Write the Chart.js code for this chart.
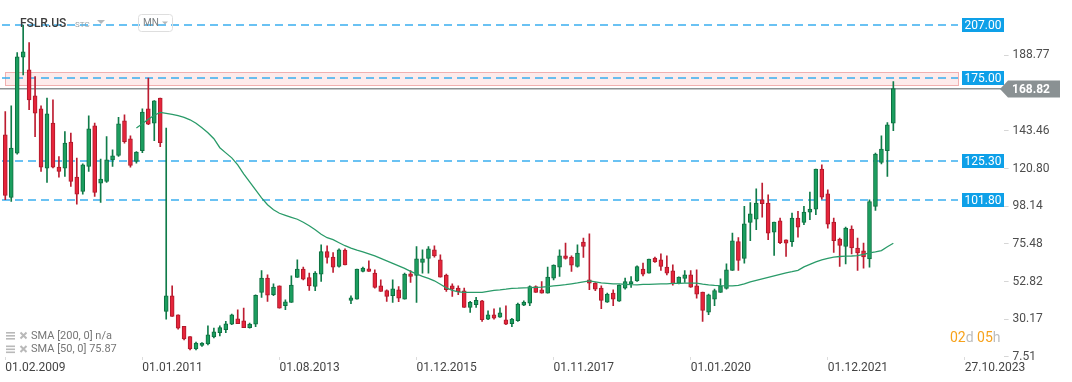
<!DOCTYPE html>
<html>
<head>
<meta charset="utf-8">
<title>FSLR.US</title>
<script src="https://cdn.jsdelivr.net/npm/chart.js@4.4.0/dist/chart.umd.min.js"></script>
<style>
  html, body { margin: 0; padding: 0; background: #fff; }
  #wrap { position: relative; width: 1072px; height: 382px; }
</style>
</head>
<body>
<div id="wrap"><canvas id="chart" width="1072" height="382"></canvas></div>
<script>
// monthly candles
const opens = [141.1,103.4,130.1,187.8,180.1,164.5,156.7,121.0,148.1,121.6,121.0,136.7,115.6,107.0,122.0,146.5,112.0,113.0,126.0,128.6,
  149.5,138.7,125.0,131.6,156.7,148.1,163.1,34.9,44.3,32.9,26.0,19.7,12.3,14.4,15.3,19.5,22.2,23.9,27.3,30.5,
  29.3,25.2,27.3,46.3,54.9,44.9,50.3,38.3,40.3,55.3,60.3,55.3,49.9,57.3,70.9,67.6,61.9,71.8,41.5,42.3,
  58.9,60.5,57.9,50.3,47.5,44.3,47.9,42.3,57.5,56.5,64.3,66.7,71.9,65.9,56.7,50.3,48.9,47.3,37.3,38.9,
  41.3,30.3,32.9,31.5,29.9,27.5,29.3,38.7,39.9,49.9,47.9,45.9,54.9,61.5,68.3,67.6,61.9,76.6,53.9,51.9,
  48.9,40.5,45.9,41.1,48.9,51.5,53.3,60.3,57.9,67.0,65.9,61.5,59.3,51.9,54.7,56.9,50.3,46.5,34.5,42.3,
  46.3,48.7,59.5,76.9,66.7,88.4,90.4,102.0,100.0,82.6,89.4,78.0,76.9,91.0,88.4,94.6,96.4,120.4,105.6,88.6,
  78.4,73.9,84.4,73.0,71.3,66.4,98.0,124.4,131.6,148.1];
const highs = [155.1,158.5,190.5,207.0,196.5,176.1,158.5,163.1,162.1,128.0,143.0,142.1,127.1,123.6,152.5,148.1,126.5,140.0,132.0,151.5,
  153.1,140.5,131.0,156.7,175.1,161.7,163.1,145.1,50.3,32.9,26.0,19.7,16.5,16.2,26.3,24.9,26.3,28.9,33.3,35.9,
  36.9,27.9,44.9,59.5,56.9,51.5,50.3,41.9,56.3,65.9,61.5,57.9,58.9,74.9,74.3,70.3,72.5,72.5,44.3,60.3,
  61.5,65.3,59.9,53.9,47.9,53.9,49.9,57.9,59.5,73.9,71.9,73.9,74.3,68.9,57.3,51.5,50.3,48.9,40.9,43.3,
  41.5,35.3,36.5,37.1,38.3,30.7,39.9,41.3,50.3,50.3,52.9,61.5,62.9,71.9,76.0,68.3,74.9,79.0,81.6,52.3,
  50.3,45.9,47.9,50.9,54.9,55.9,62.3,63.9,66.4,67.6,69.5,68.3,62.9,55.7,59.5,59.5,59.9,46.5,45.3,48.3,
  54.5,63.5,82.0,79.3,98.0,100.4,108.6,112.0,105.0,88.6,91.0,78.0,94.0,95.0,98.0,106.6,120.4,123.0,108.0,91.0,
  79.0,85.6,86.4,79.0,76.0,102.0,130.1,140.5,148.4,173.1];
const lows = [102.0,101.0,129.5,177.1,156.1,140.0,119.0,112.4,121.2,115.6,116.0,110.0,99.4,105.4,119.0,104.0,100.4,112.4,122.0,128.0,
  136.1,121.6,124.0,130.4,147.1,137.5,134.0,30.3,31.9,24.3,17.8,11.8,11.8,13.8,14.8,18.9,20.2,22.2,26.9,27.5,
  25.2,24.9,25.8,43.3,40.9,44.3,36.9,35.9,40.3,55.3,53.9,47.5,47.3,52.9,63.9,58.3,61.5,62.9,39.5,42.3,
  58.7,58.9,48.9,46.9,40.9,40.3,40.7,42.3,52.3,40.3,57.9,57.9,67.5,55.5,46.9,43.9,44.9,37.3,34.3,37.3,
  28.9,29.9,30.3,31.3,26.9,25.8,28.9,38.3,38.3,46.3,45.9,45.9,53.9,55.9,66.3,58.9,61.5,67.3,47.9,47.3,
  36.5,40.3,38.3,40.9,48.3,49.3,52.9,56.3,57.9,64.3,59.5,56.9,50.7,51.5,52.3,49.3,42.9,28.9,32.9,38.3,
  46.3,48.3,59.5,59.5,63.9,77.5,84.0,91.6,78.0,68.5,75.6,67.9,73.9,79.6,87.0,90.0,93.0,102.4,85.0,70.3,
  61.9,63.5,69.5,59.5,60.9,61.5,95.6,123.6,116.0,143.6];
const closes = [104.6,133.1,187.9,191.0,162.1,154.1,121.6,153.7,121.6,119.0,136.1,113.0,105.4,123.0,144.7,106.4,114.4,126.0,128.4,147.7,
  137.0,122.6,130.7,154.7,147.5,161.5,136.4,44.3,31.9,24.9,18.3,12.3,15.9,15.9,20.9,22.7,25.2,27.5,32.9,27.5,
  25.2,27.3,44.5,54.9,44.7,49.5,36.9,40.7,50.7,60.3,54.3,50.3,57.9,70.9,67.3,61.5,71.9,62.9,43.1,60.3,
  60.9,58.9,49.3,46.9,43.9,48.5,42.9,57.3,55.9,66.5,66.5,72.5,68.3,55.5,47.9,48.3,46.7,37.3,40.3,41.5,
  29.9,32.9,30.9,34.1,27.3,30.3,39.3,40.5,49.9,46.3,45.9,55.5,62.7,68.3,66.7,62.7,69.9,73.9,51.9,48.3,
  41.5,45.3,42.3,50.7,52.9,52.9,61.9,57.3,66.4,64.6,61.9,57.9,51.5,55.5,56.9,49.5,45.3,35.5,44.9,47.5,
  50.3,59.9,77.4,65.5,87.6,93.6,100.0,99.6,82.0,88.6,76.3,76.0,91.0,85.6,94.6,96.4,120.4,103.6,87.4,77.5,
  74.5,85.0,73.0,70.0,67.6,101.0,129.5,132.5,147.1,168.82];

// SMA [50, 0], starts at the 23rd candle
const smaStart = 22;
const sma50Values = [145.1,147.7,150.4,152.8,154.5,154.0,153.4,152.6,151.6,150.1,148.0,145.3,142.3,138.7,133.3,130.2,127.2,123.0,117.6,112.8,
  108.0,103.2,99.0,96.0,93.9,92.7,91.5,90.3,88.5,86.4,84.0,81.3,79.2,78.0,76.2,74.4,72.9,71.7,70.7,69.5,
  68.3,66.8,65.3,63.8,62.3,60.8,59.0,57.5,56.0,54.8,53.3,51.2,49.1,47.6,46.7,46.4,46.3,46.3,46.4,47.0,
  47.6,47.9,48.3,48.8,48.9,49.1,49.2,49.4,49.5,49.8,50.2,50.6,51.0,51.5,52.0,52.6,53.2,52.7,52.1,51.8,
  51.5,51.4,51.2,51.0,50.9,51.1,51.2,51.3,51.4,51.5,51.7,51.8,51.9,51.9,51.9,51.3,50.9,50.6,50.4,50.3,
  50.3,50.5,51.5,52.7,53.6,54.5,55.4,56.3,57.2,58.1,58.8,59.6,61.7,63.2,64.7,65.9,66.8,67.6,67.9,68.1,
  68.2,68.5,69.2,70.1,70.7,71.5,73.8,75.9];

const dateLabels = ['01.02.2009','01.01.2011','01.08.2013','01.12.2015','01.11.2017','01.01.2020','01.12.2021','27.10.2023'];
const labelEvery = 23;
const slotCount = 168;
const yTickValues = [7.51, 30.17, 52.82, 75.48, 98.14, 120.80, 143.46, 188.77];
const levelValues = [207.00, 175.00, 125.30, 101.80];
const zoneRange = [171.0, 178.6];
const lastPrice = 168.82;

const categories = Array.from({length: slotCount}, (_, i) => i % labelEvery === 0 ? (dateLabels[i / labelEvery] || '') : '');
const sma50 = Array(smaStart).fill(null).concat(sma50Values);

const up = opens.map((o, i) => closes[i] >= o);
const GREEN = '#1b9e5f', GREEN_DARK = '#0d6e3f', RED = '#e6253b', RED_DARK = '#ad1a2b';

// level lines, zone, last price, texts
const overlay = {
  id: 'overlay',
  beforeDatasetsDraw(chart) {
    const {ctx, scales: {y}} = chart;
    ctx.save();
    const zt = Math.round(y.getPixelForValue(zoneRange[1])) + 0.5;
    const zb = Math.round(y.getPixelForValue(zoneRange[0])) + 0.5;
    ctx.fillStyle = 'rgba(240,110,110,0.14)';
    ctx.fillRect(5.5, zt, 953, zb - zt);
    ctx.strokeStyle = '#f1b0b0';
    ctx.lineWidth = 1;
    ctx.strokeRect(5.5, zt, 953, zb - zt);

    ctx.setLineDash([8, 5]);
    ctx.strokeStyle = '#3aaff0';
    ctx.lineWidth = 1.6;
    levelValues.forEach(v => {
      const py = Math.round(y.getPixelForValue(v));
      ctx.beginPath(); ctx.moveTo(2, py); ctx.lineTo(958, py); ctx.stroke();
    });
    ctx.setLineDash([]);

    const lp = y.getPixelForValue(lastPrice);
    ctx.strokeStyle = '#8d9395';
    ctx.lineWidth = 1.5;
    ctx.beginPath(); ctx.moveTo(0, lp); ctx.lineTo(1003, lp); ctx.stroke();
    ctx.restore();
  },
  afterDraw(chart) {
    const {ctx, scales: {y}} = chart;
    ctx.save();
    ctx.textBaseline = 'middle';

    // level tags
    ctx.font = '12px Roboto';
    ctx.textAlign = 'center';
    levelValues.forEach(v => {
      const py = Math.round(y.getPixelForValue(v));
      ctx.fillStyle = '#0ea0e8';
      ctx.fillRect(962, py - 7, 42, 14);
      ctx.fillStyle = '#fff';
      ctx.fillText(v.toFixed(2), 983, py + 0.5);
    });

    // last price tag
    const lp = Math.round(y.getPixelForValue(lastPrice));
    ctx.fillStyle = '#8a9193';
    ctx.beginPath();
    ctx.moveTo(1000, lp);
    ctx.lineTo(1008, lp - 8.5);
    ctx.lineTo(1060, lp - 8.5);
    ctx.lineTo(1060, lp + 8.5);
    ctx.lineTo(1008, lp + 8.5);
    ctx.closePath();
    ctx.fill();
    ctx.fillStyle = '#fff';
    ctx.font = 'bold 12px Roboto';
    ctx.textAlign = 'left';
    ctx.fillText(lastPrice.toFixed(2), 1012, lp + 0.5);

    // header
    ctx.fillStyle = '#3d3d3d';
    ctx.font = '500 12px Roboto';
    ctx.fillText('FSLR.US', 20, 23.5);
    ctx.fillStyle = '#9aa2a6';
    ctx.font = '8px Roboto';
    ctx.fillText('STC', 75, 24.5);
    ctx.fillStyle = '#b3b8bb';
    ctx.beginPath(); ctx.moveTo(97, 20); ctx.lineTo(105, 20); ctx.lineTo(101, 24); ctx.closePath(); ctx.fill();
    ctx.strokeStyle = '#dedede';
    ctx.lineWidth = 1;
    ctx.beginPath(); ctx.roundRect(138.5, 14.5, 34, 17, 3); ctx.stroke();
    ctx.fillStyle = '#7a7f82';
    ctx.font = '10px Roboto';
    ctx.fillText('MN', 143, 23.5);
    ctx.fillStyle = '#b3b8bb';
    ctx.beginPath(); ctx.moveTo(162, 21.5); ctx.lineTo(168, 21.5); ctx.lineTo(165, 24.5); ctx.closePath(); ctx.fill();

    // indicator legend
    const rows = [['SMA [200, 0] n/a', 336], ['SMA [50, 0] 75.87', 349.5]];
    rows.forEach(([txt, ry]) => {
      ctx.fillStyle = '#b9b9b9';
      ctx.fillRect(6, ry - 4, 9, 1.6);
      ctx.fillRect(6, ry - 1, 9, 1.6);
      ctx.fillRect(6, ry + 2, 9, 1.6);
      ctx.strokeStyle = '#b9b9b9';
      ctx.lineWidth = 2;
      ctx.beginPath();
      ctx.moveTo(20.5, ry - 3.5); ctx.lineTo(26.5, ry + 2.5);
      ctx.moveTo(26.5, ry - 3.5); ctx.lineTo(20.5, ry + 2.5);
      ctx.stroke();
      ctx.fillStyle = '#767676';
      ctx.font = '11px Roboto';
      ctx.fillText(txt, 31, ry);
    });

    // candle countdown
    const parts = [['02', '#f7a21b'], ['d ', '#bdbdbd'], ['05', '#f7a21b'], ['h', '#bdbdbd']];
    ctx.font = '14px Roboto';
    let cx = 950;
    parts.forEach(([t, c]) => {
      ctx.fillStyle = c;
      ctx.fillText(t, cx, 338);
      cx += ctx.measureText(t).width;
    });
    ctx.restore();
  }
};

new Chart(document.getElementById('chart'), {
  type: 'bar',
  data: {
    labels: categories,
    datasets: [
      {
        label: 'SMA 50',
        type: 'line',
        data: sma50,
        borderColor: '#2a9b69',
        borderWidth: 1.3,
        pointRadius: 0,
        tension: 0,
        order: 1
      },
      {
        label: 'bodies',
        data: opens.map((o, i) => [o, closes[i]]),
        backgroundColor: up.map(u => u ? GREEN : RED),
        borderColor: up.map(u => u ? GREEN_DARK : RED_DARK),
        borderWidth: 1,
        borderSkipped: false,
        barThickness: 4,
        minBarLength: 1.5,
        grouped: false,
        order: 2
      },
      {
        label: 'wicks',
        data: lows.map((l, i) => [l, highs[i]]),
        backgroundColor: up.map(u => u ? '#107c4a' : '#bd1d31'),
        barThickness: 1,
        grouped: false,
        order: 3
      }
    ]
  },
  options: {
    responsive: false,
    animation: false,
    devicePixelRatio: 1,
    events: [],
    layout: { padding: { left: 2.3, right: 0, top: 0, bottom: 0 } },
    plugins: { legend: { display: false }, tooltip: { enabled: false } },
    scales: {
      x: {
        afterBuildTicks: s => { s.ticks = s.ticks.filter(t => categories[t.value] !== ''); },
        afterFit: s => { s.height = 25; s.paddingLeft = 0; s.paddingRight = 0; },
        grid: { drawOnChartArea: false, offset: false, tickLength: 3, color: '#dcdcdc' },
        border: { display: false },
        ticks: {
          autoSkip: false, maxRotation: 0, minRotation: 0, align: 'start', padding: 1,
          color: '#444', font: { family: 'Roboto', size: 12 }
        }
      },
      y: {
        position: 'right',
        min: 7.5,
        max: 222.1,
        afterBuildTicks: s => { s.ticks = yTickValues.map(v => ({ value: v })); },
        afterFit: s => { s.width = 68.4; s.paddingTop = 0; s.paddingBottom = 0; },
        grid: { drawOnChartArea: false, tickLength: 5, color: '#d6d6d6' },
        border: { display: false },
        ticks: {
          padding: 4, color: '#4d4d4d', font: { family: 'Roboto', size: 12 },
          callback: v => Number(v).toFixed(2)
        }
      }
    }
  },
  plugins: [overlay]
});
</script>
</body>
</html>
